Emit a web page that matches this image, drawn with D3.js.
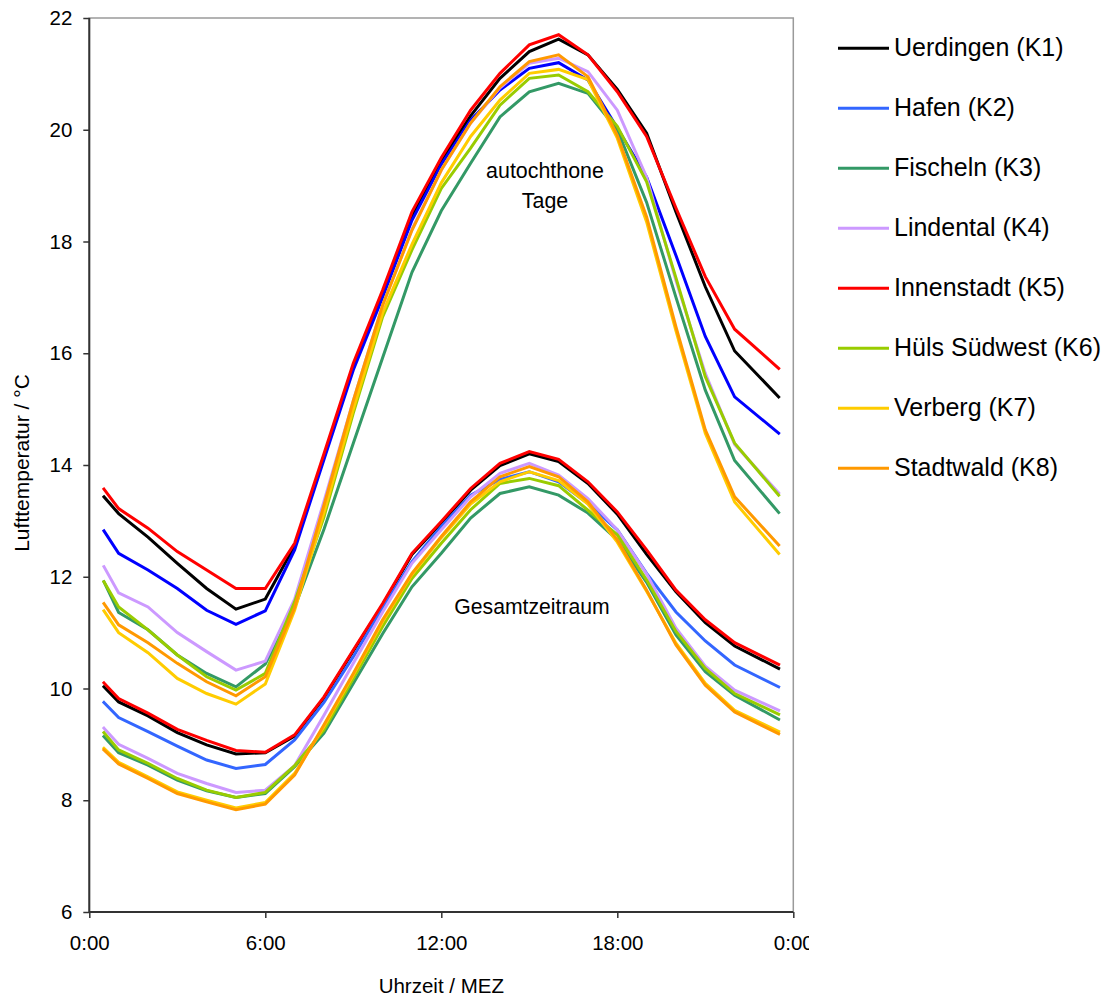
<!DOCTYPE html>
<html>
<head>
<meta charset="utf-8">
<script src="https://cdn.jsdelivr.net/npm/d3@7"></script>
<style>
  html, body { margin: 0; padding: 0; background: #fff; }
  svg { display: block; font-family: "Liberation Sans", Arial, sans-serif; }
</style>
</head>
<body>
<svg id="chart" width="1116" height="996"></svg>
<script>
// ---------- data ----------
const hours = [0.5, 1, 2, 3, 4, 5, 6, 7, 8, 9, 10, 11, 12, 13, 14, 15, 16, 17, 18, 19, 20, 21, 22, 23.5];
const stationNames = ["Uerdingen (K1)", "Hafen (K2)", "Fischeln (K3)", "Lindental (K4)",
                      "Innenstadt (K5)", "Hüls Südwest (K6)", "Verberg (K7)", "Stadtwald (K8)"];
const xTickValues = [0, 6, 12, 18, 24];
const xTickLabels = ["0:00", "6:00", "12:00", "18:00", "0:00"];
const yTickValues = [6, 8, 10, 12, 14, 16, 18, 20, 22];
const annotationUpper = ["autochthone", "Tage"];
const annotationLower = "Gesamtzeitraum";

// autochthone Tage
const tageK1 = [13.43, 13.13, 12.71, 12.24, 11.79, 11.42, 11.60, 12.55, 14.15, 15.75, 17.05, 18.45, 19.45, 20.25, 20.92, 21.40, 21.62, 21.34, 20.72, 19.94, 18.53, 17.19, 16.04, 15.22];
const tageK2 = [12.82, 12.42, 12.12, 11.79, 11.40, 11.15, 11.39, 12.48, 14.10, 15.70, 17.00, 18.38, 19.38, 20.17, 20.71, 21.10, 21.20, 20.89, 20.03, 19.15, 17.75, 16.30, 15.22, 14.57];
const tageK3 = [11.91, 11.36, 11.05, 10.60, 10.27, 10.03, 10.44, 11.45, 12.85, 14.39, 15.92, 17.45, 18.55, 19.40, 20.23, 20.68, 20.83, 20.65, 20.00, 18.70, 17.00, 15.34, 14.08, 13.15];
const tageK4 = [12.18, 11.71, 11.46, 11.00, 10.66, 10.33, 10.49, 11.60, 13.35, 15.15, 16.86, 18.22, 19.28, 20.12, 20.75, 21.19, 21.28, 21.04, 20.35, 19.15, 17.30, 15.64, 14.37, 13.50];
const tageK5 = [13.57, 13.22, 12.87, 12.45, 12.12, 11.79, 11.79, 12.60, 14.20, 15.82, 17.13, 18.53, 19.50, 20.35, 21.01, 21.52, 21.70, 21.34, 20.68, 19.88, 18.60, 17.37, 16.43, 15.73];
const tageK6 = [11.91, 11.46, 11.05, 10.60, 10.21, 9.97, 10.27, 11.55, 13.07, 14.93, 16.65, 17.85, 18.95, 19.67, 20.44, 20.92, 20.98, 20.68, 20.06, 19.07, 17.35, 15.58, 14.39, 13.46];
const tageK7 = [11.39, 11.00, 10.64, 10.18, 9.91, 9.72, 10.08, 11.40, 13.15, 15.00, 16.72, 17.95, 19.05, 19.88, 20.53, 21.01, 21.08, 20.90, 19.85, 18.35, 16.40, 14.57, 13.34, 12.42];
const tageK8 = [11.52, 11.14, 10.82, 10.45, 10.12, 9.87, 10.21, 11.45, 13.28, 15.15, 16.86, 18.20, 19.28, 20.12, 20.77, 21.22, 21.34, 20.95, 19.90, 18.44, 16.47, 14.63, 13.43, 12.57];

// Gesamtzeitraum
const gesamtK1 = [10.03, 9.76, 9.51, 9.21, 8.99, 8.83, 8.85, 9.15, 9.83, 10.67, 11.50, 12.40, 12.96, 13.55, 13.99, 14.20, 14.06, 13.67, 13.12, 12.40, 11.73, 11.18, 10.76, 10.36];
const gesamtK2 = [9.75, 9.48, 9.23, 8.97, 8.72, 8.57, 8.64, 9.08, 9.75, 10.57, 11.45, 12.27, 12.90, 13.46, 13.74, 13.88, 13.70, 13.31, 12.84, 12.06, 11.37, 10.85, 10.42, 10.03];
const gesamtK3 = [9.14, 8.85, 8.63, 8.36, 8.17, 8.05, 8.12, 8.60, 9.20, 10.09, 10.98, 11.82, 12.42, 13.05, 13.49, 13.61, 13.46, 13.14, 12.66, 11.90, 10.96, 10.30, 9.88, 9.45];
const gesamtK4 = [9.29, 9.00, 8.75, 8.48, 8.30, 8.14, 8.18, 8.62, 9.52, 10.45, 11.37, 12.24, 12.84, 13.43, 13.85, 14.03, 13.82, 13.40, 12.84, 12.05, 11.08, 10.40, 9.97, 9.61];
const gesamtK5 = [10.10, 9.82, 9.56, 9.27, 9.07, 8.89, 8.86, 9.17, 9.85, 10.69, 11.52, 12.42, 12.99, 13.58, 14.03, 14.24, 14.10, 13.70, 13.16, 12.48, 11.76, 11.23, 10.82, 10.43];
const gesamtK6 = [9.21, 8.90, 8.66, 8.39, 8.18, 8.05, 8.14, 8.62, 9.26, 10.18, 11.11, 11.97, 12.60, 13.20, 13.67, 13.76, 13.63, 13.19, 12.75, 11.94, 11.02, 10.36, 9.91, 9.54];
const gesamtK7 = [8.93, 8.68, 8.42, 8.15, 8.00, 7.86, 7.96, 8.48, 9.32, 10.24, 11.20, 12.04, 12.70, 13.30, 13.70, 13.88, 13.72, 13.30, 12.62, 11.74, 10.81, 10.09, 9.61, 9.23];
const gesamtK8 = [8.90, 8.65, 8.39, 8.12, 7.97, 7.83, 7.93, 8.45, 9.35, 10.27, 11.23, 12.06, 12.72, 13.34, 13.79, 13.97, 13.79, 13.34, 12.66, 11.76, 10.78, 10.06, 9.58, 9.19];

// ---------- styles ----------
const colorsTage   = ["#000000", "#0000FF", "#339966", "#CC99FF", "#FF0000", "#99CC00", "#FFCC00", "#FF9900"];
const colorsGesamt = ["#000000", "#3366FF", "#339966", "#CC99FF", "#FF0000", "#99CC00", "#FFCC00", "#FF9900"];
const colorsLegend = ["#000000", "#3366FF", "#339966", "#CC99FF", "#FF0000", "#99CC00", "#FFCC00", "#FF9900"];

const tageSeries = [tageK1, tageK2, tageK3, tageK4, tageK5, tageK6, tageK7, tageK8];
const gesamtSeries = [gesamtK1, gesamtK2, gesamtK3, gesamtK4, gesamtK5, gesamtK6, gesamtK7, gesamtK8];

// ---------- layout ----------
const svg = d3.select("#chart");
const plot = { left: 89.3, right: 793.3, top: 18, bottom: 912 };
const x = d3.scaleLinear().domain([0, 24]).range([plot.left, plot.right]);
const y = d3.scaleLinear().domain([6, 22]).range([plot.bottom, plot.top]);

// plot border (top/right gray)
svg.append("rect")
  .attr("x", plot.left).attr("y", plot.top)
  .attr("width", plot.right - plot.left).attr("height", plot.bottom - plot.top)
  .attr("fill", "none").attr("stroke", "#9a9a9a").attr("stroke-width", 1.5);

// lines
const line = d3.line().x((d, i) => x(hours[i])).y(d => y(d));
const g = svg.append("g");
gesamtSeries.forEach((s, i) => {
  g.append("path").datum(s).attr("d", line)
    .attr("fill", "none").attr("stroke", colorsGesamt[i])
    .attr("stroke-width", 3).attr("stroke-linejoin", "miter").attr("stroke-linecap", "square");
});
tageSeries.forEach((s, i) => {
  g.append("path").datum(s).attr("d", line)
    .attr("fill", "none").attr("stroke", colorsTage[i])
    .attr("stroke-width", 3).attr("stroke-linejoin", "miter").attr("stroke-linecap", "square");
});

// axes
const yAxis = d3.axisLeft(y).tickValues(yTickValues).tickSize(6).tickPadding(11).tickFormat(d3.format("d"));
const yg = svg.append("g").attr("transform", `translate(${plot.left},0)`).call(yAxis);
const xAxis = d3.axisBottom(x).tickValues(xTickValues).tickSize(6).tickPadding(17)
  .tickFormat((d, i) => xTickLabels[i]);
const xg = svg.append("g").attr("transform", `translate(0,${plot.bottom})`).call(xAxis);
[yg, xg].forEach(ax => {
  ax.select(".domain").attr("stroke", "#333").attr("stroke-width", 2);
  ax.selectAll(".tick line").attr("stroke", "#333").attr("stroke-width", 1.5);
  ax.selectAll("text").attr("font-size", 20.5).attr("fill", "#000")
    .attr("font-family", '"Liberation Sans", Arial, sans-serif');
});
yg.select(".domain").attr("d", `M0,${plot.top}V${plot.bottom}`);
xg.select(".domain").attr("d", `M${plot.left},0H${plot.right}`);

// axis titles
svg.append("text")
  .attr("x", (plot.left + plot.right) / 2).attr("y", 993)
  .attr("text-anchor", "middle").attr("font-size", 20.5).text("Uhrzeit / MEZ");
svg.append("text")
  .attr("transform", `translate(28.5,${(plot.top + plot.bottom) / 2 - 2}) rotate(-90)`)
  .attr("text-anchor", "middle").attr("font-size", 21).text("Lufttemperatur / °C");

// annotations
svg.append("text").attr("x", 545).attr("y", 178).attr("text-anchor", "middle")
  .attr("font-size", 21.4).text(annotationUpper[0]);
svg.append("text").attr("x", 545).attr("y", 208).attr("text-anchor", "middle")
  .attr("font-size", 21.4).text(annotationUpper[1]);
svg.append("text").attr("x", 532).attr("y", 614).attr("text-anchor", "middle")
  .attr("font-size", 21.2).text(annotationLower);

// legend (its white box slightly covers the last axis label, as in the original)
const legend = svg.append("g");
legend.append("rect").attr("x", 809).attr("y", 0).attr("width", 307).attr("height", 996).attr("fill", "#fff");
stationNames.forEach((name, i) => {
  const ly = 48.3 + i * 60;
  legend.append("line").attr("x1", 838).attr("x2", 889).attr("y1", ly).attr("y2", ly)
    .attr("stroke", colorsLegend[i]).attr("stroke-width", 3);
  legend.append("text").attr("x", 894).attr("y", ly + 7.5)
    .attr("font-size", 25).text(name);
});
</script>
</body>
</html>
